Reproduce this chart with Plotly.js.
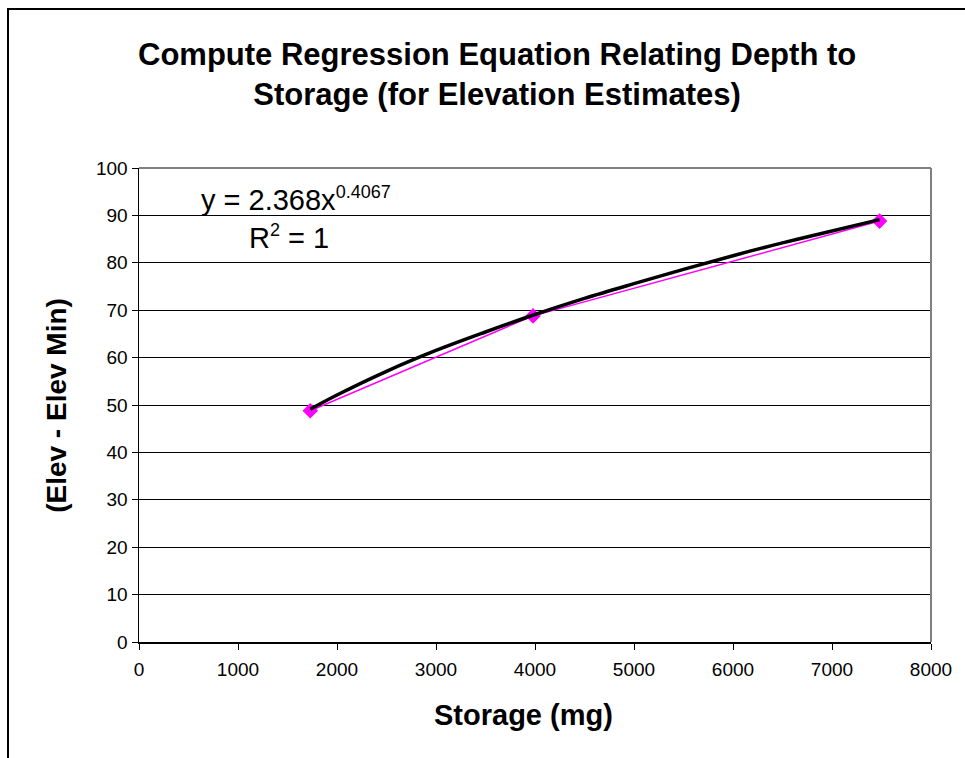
<!DOCTYPE html>
<html>
<head>
<meta charset="utf-8">
<script src="https://cdn.plot.ly/plotly-3.0.1.min.js"></script>
<style>
  html, body { margin: 0; padding: 0; background: #fff; }
  #wrap { position: relative; width: 965px; height: 758px; overflow: hidden; }
  #frame { position: absolute; left: 7px; top: 8px; width: 1000px; height: 800px;
           border-left: 2px solid #000; border-top: 2px solid #000; pointer-events: none; }
  #chart { position: absolute; left: 0; top: 0; width: 965px; height: 758px; }
</style>
</head>
<body>
<div id="wrap">
  <div id="chart"></div>
  <div id="frame"></div>
</div>
<script>
const storage = [1730, 3980, 7480];
const depth = [48.8, 68.8, 88.8];

// Black power trendline: hand-typed values, worked out from the equation printed
// on the chart (y = 2.368x^0.4067) and checked against the drawn curve
const trendStorage = [1730, 2000, 2500, 3000, 3500, 4000, 4500, 5000, 5500, 6000, 6500, 7000, 7480];
const trendDepth = [49.1, 52.1, 57.1, 61.5, 65.4, 69.1, 72.5, 75.6, 78.6, 81.5, 84.2, 86.7, 89.1];

const xTicks = [0, 1000, 2000, 3000, 4000, 5000, 6000, 7000, 8000];
const yTicks = [0, 10, 20, 30, 40, 50, 60, 70, 80, 90, 100];

const titleText = 'Compute Regression Equation Relating Depth to<br>Storage (for Elevation Estimates)';
const xTitle = 'Storage (mg)';
const yTitle = '(Elev - Elev Min)';
const eqText = 'y = 2.368x<sup><span style="font-size:18px">0.4067</span></sup>';
const r2Text = 'R<sup><span style="font-size:18px">2</span></sup> = 1';

const font = 'Arial, "Liberation Sans", sans-serif';

const traces = [
  {
    x: storage, y: depth, type: 'scatter', mode: 'lines+markers',
    line: { color: '#FF00FF', width: 1.5 },
    marker: { symbol: 'diamond', size: 12, color: '#FF00FF' },
    hoverinfo: 'skip'
  },
  {
    x: trendStorage, y: trendDepth, type: 'scatter', mode: 'lines',
    line: { color: '#000000', width: 3.5, shape: 'spline' },
    hoverinfo: 'skip'
  }
];

const layout = {
  width: 965, height: 758,
  paper_bgcolor: '#fff', plot_bgcolor: '#fff',
  showlegend: false,
  margin: { l: 139, r: 34, t: 168, b: 116 },
  font: { family: font, color: '#000' },
  xaxis: {
    range: [0, 8000], tickvals: xTicks, ticktext: xTicks.map(String),
    showgrid: false, zeroline: false,
    showline: true, linecolor: '#000', linewidth: 1.5,
    ticks: 'outside', ticklen: 6, tickcolor: '#000', tickwidth: 1,
    ticklabelstandoff: 4,
    tickfont: { family: font, size: 19, color: '#000' },
    fixedrange: true
  },
  yaxis: {
    range: [0, 100], tickvals: yTicks, ticktext: yTicks.map(String),
    showgrid: true, gridcolor: '#000', gridwidth: 1,
    zeroline: false,
    showline: true, linecolor: '#000', linewidth: 1.5,
    ticks: 'outside', ticklen: 6, tickcolor: '#000', tickwidth: 1,
    tickfont: { family: font, size: 19, color: '#000' },
    fixedrange: true
  },
  shapes: [
    { type: 'line', xref: 'paper', yref: 'paper', x0: 0, x1: 1, y0: 1, y1: 1,
      line: { color: '#808080', width: 2 }, layer: 'above' },
    { type: 'line', xref: 'paper', yref: 'paper', x0: 1, x1: 1, y0: 0, y1: 1,
      line: { color: '#808080', width: 2 }, layer: 'above' }
  ],
  annotations: [
    { text: titleText, xref: 'paper', yref: 'paper', x: 0.452, y: 1.198,
      xanchor: 'center', yanchor: 'middle', align: 'center', showarrow: false,
      font: { family: font, size: 31, color: '#000', weight: 'bold' } },
    { text: xTitle, xref: 'paper', yref: 'paper', x: 0.485, y: -0.115, yanchor: 'top',
      showarrow: false, font: { family: font, size: 29, color: '#000', weight: 'bold' } },
    { text: yTitle, xref: 'paper', yref: 'paper', x: -0.105, y: 0.5, xanchor: 'center',
      textangle: -90, showarrow: false,
      font: { family: font, size: 28, color: '#000', weight: 'bold' } },
    { text: eqText, xref: 'paper', yref: 'paper', x: 0.076, y: 0.935, xanchor: 'left', yanchor: 'middle',
      showarrow: false, font: { family: font, size: 29, color: '#000' } },
    { text: r2Text, xref: 'paper', yref: 'paper', x: 0.136, y: 0.855, xanchor: 'left', yanchor: 'middle',
      showarrow: false, font: { family: font, size: 29, color: '#000' } }
  ]
};

Plotly.newPlot('chart', traces, layout, { displayModeBar: false, staticPlot: true });
</script>
</body>
</html>
